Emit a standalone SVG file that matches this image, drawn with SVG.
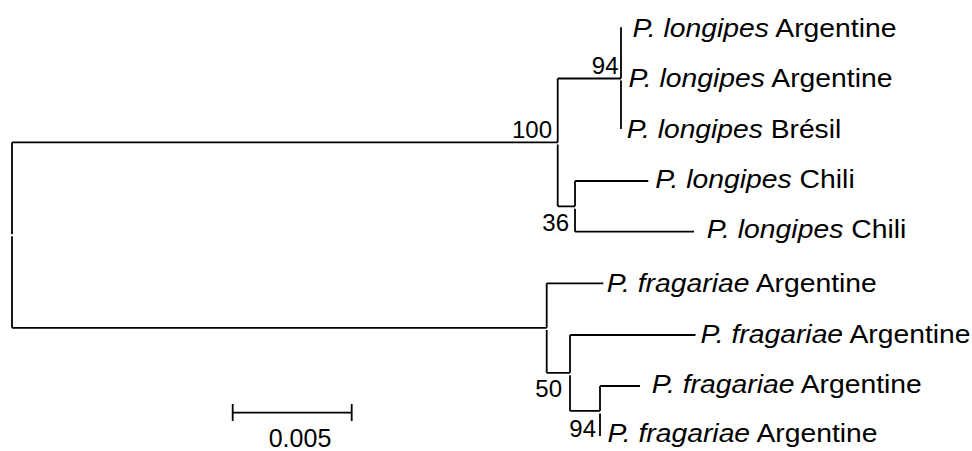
<svg xmlns="http://www.w3.org/2000/svg" width="972" height="451" viewBox="0 0 972 451">
<style>
.br{stroke:#000;stroke-width:1.8;fill:none;stroke-linecap:butt}
.sp{font-family:"Liberation Sans",Arial,sans-serif;font-size:25px;fill:#000}
.sp .i{font-style:italic}
.bs{font-family:"Liberation Sans",Arial,sans-serif;font-size:24px;fill:#000;text-anchor:end}
.sc{font-family:"Liberation Sans",Arial,sans-serif;font-size:25px;fill:#000;text-anchor:middle}
</style>
<rect width="972" height="451" fill="#fff"/>
<g id="connectors">
<path class="br" d="M12,142.4V234.3M12,236.3V327.8M12,142.4H557.7M12,327.8H546.7"/>
<path class="br" d="M557.7,78.5V142.4M557.7,144.6V206.35M557.7,78.5H621M557.7,206.35H575"/>
<path class="br" d="M621,27.3V78.5M621,80.6V129"/>
<path class="br" d="M575,181V206.35M575,208.8V231.7M575,181H648.3M575,231.7H694"/>
<path class="br" d="M546.7,283.3V327.8M546.7,330V372.85M546.7,283.3H603.3M546.7,372.85H570"/>
<path class="br" d="M570,335V372.85M570,375.2V410.9M570,335H695.5M570,410.9H600"/>
<path class="br" d="M600,386V410.9M600,413.6V436M600,386H640"/>
</g>
<g id="leaf1"><text class="sp" x="632.5" y="36.7" textLength="264" lengthAdjust="spacingAndGlyphs"><tspan class="i">P. longipes</tspan> Argentine</text></g>
<g id="leaf2"><text class="sp" x="628.5" y="87.3" textLength="264" lengthAdjust="spacingAndGlyphs"><tspan class="i">P. longipes</tspan> Argentine</text></g>
<g id="leaf3"><text class="sp" x="626.8" y="138" textLength="214.5" lengthAdjust="spacingAndGlyphs"><tspan class="i">P. longipes</tspan> Brésil</text></g>
<g id="leaf4"><text class="sp" x="655.2" y="188" textLength="199.5" lengthAdjust="spacingAndGlyphs"><tspan class="i">P. longipes</tspan> Chili</text></g>
<g id="leaf5"><text class="sp" x="706.8" y="238.3" textLength="199.5" lengthAdjust="spacingAndGlyphs"><tspan class="i">P. longipes</tspan> Chili</text></g>
<g id="leaf6"><text class="sp" x="606.8" y="291.7" textLength="270" lengthAdjust="spacingAndGlyphs"><tspan class="i">P. fragariae</tspan> Argentine</text></g>
<g id="leaf7"><text class="sp" x="700.5" y="343.3" textLength="270" lengthAdjust="spacingAndGlyphs"><tspan class="i">P. fragariae</tspan> Argentine</text></g>
<g id="leaf8"><text class="sp" x="651.8" y="393.3" textLength="270" lengthAdjust="spacingAndGlyphs"><tspan class="i">P. fragariae</tspan> Argentine</text></g>
<g id="leaf9"><text class="sp" x="607.5" y="441.7" textLength="270" lengthAdjust="spacingAndGlyphs"><tspan class="i">P. fragariae</tspan> Argentine</text></g>
<g id="node100"><text class="bs" x="552" y="138.3">100</text></g>
<g id="node94a"><text class="bs" x="618.5" y="74">94</text></g>
<g id="node36"><text class="bs" x="569" y="231">36</text></g>
<g id="node50"><text class="bs" x="562" y="396.7">50</text></g>
<g id="node94b"><text class="bs" x="596" y="436.7">94</text></g>
<g id="scale">
<path class="br" d="M232.7,412.7H351.7M232.7,404V421M351.7,404V421"/>
<text class="sc" x="300" y="447.3">0.005</text>
</g>
</svg>
